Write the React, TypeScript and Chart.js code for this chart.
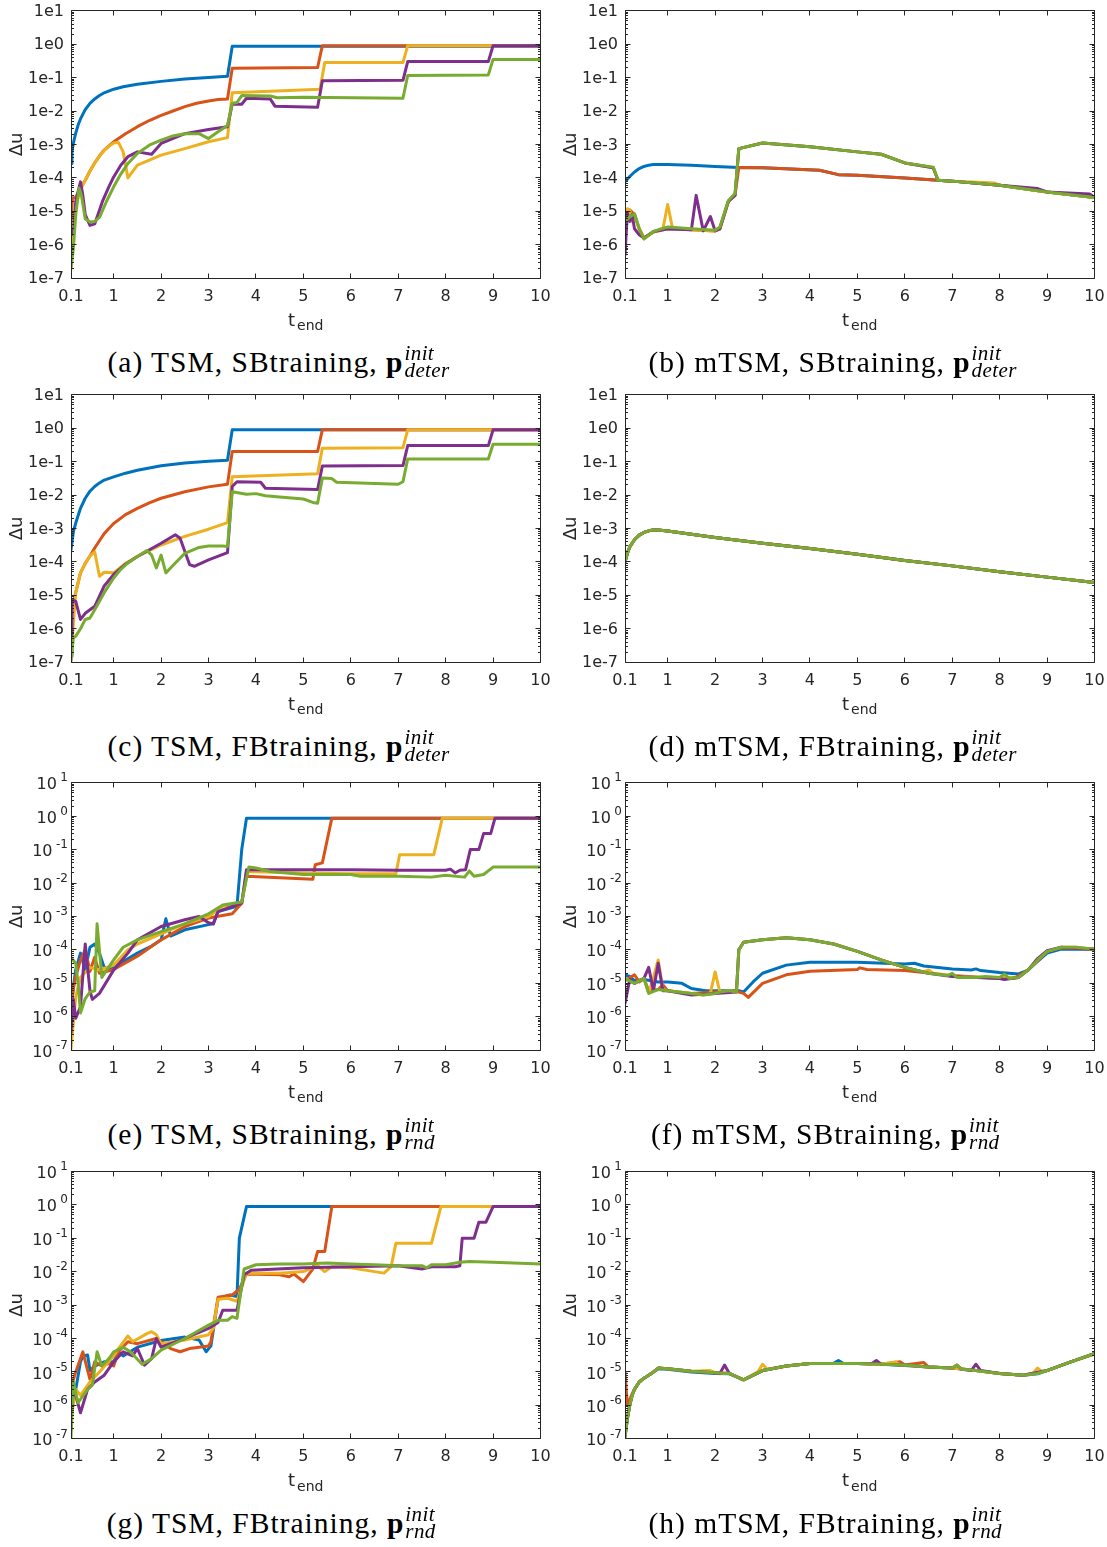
import React, { useEffect, useRef } from 'react';
import { Chart, registerables } from 'chart.js';

Chart.register(...registerables);

type Pt = [number, number];

// ---------- axes ----------
const X_MIN = 0.1;
const X_MAX = 10;
const Y_MIN = 1e-7;
const Y_MAX = 10;
const X_TICKS = [0.1, 1, 2, 3, 4, 5, 6, 7, 8, 9, 10];
const X_TICK_LABELS = ['0.1', '1', '2', '3', '4', '5', '6', '7', '8', '9', '10'];
const Y_EXPONENTS = [1, 0, -1, -2, -3, -4, -5, -6, -7];
const Y_MINOR_FACTORS = [2, 3, 4, 5, 6, 7, 8, 9];
const COLORS = ['#0072BD', '#D95319', '#EDB120', '#7E2F8E', '#77AC30'];

// ---------- (a) TSM, SBtraining, deter ----------
const aBlue: Pt[] = [[0.1,2.7e-4],[0.12,6e-4],[0.15,1.1e-3],[0.2,2.2e-3],[0.25,3.8e-3],[0.3,5.8e-3],[0.4,1.1e-2],[0.5,1.7e-2],[0.6,2.3e-2],[0.7,2.9e-2],[0.8,3.5e-2],[1,4.5e-2],[1.2,5.3e-2],[1.5,6.3e-2],[2,7.7e-2],[2.5,9e-2],[3,0.1],[3.4,0.11],[3.5,0.87],[10,0.87]];
const aOrange: Pt[] = [[0.1,3.4e-6],[0.13,2.5e-5],[0.2,2.6e-5],[0.3,5e-5],[0.4,8.5e-5],[0.5,1.6e-4],[0.6,2.8e-4],[0.7,4.5e-4],[0.8,6.8e-4],[0.9,9e-4],[1,1.2e-3],[1.25,2.1e-3],[1.5,3.4e-3],[1.75,5.2e-3],[2,7.4e-3],[2.25,1e-2],[2.5,1.35e-2],[2.75,1.7e-2],[3,2e-2],[3.2,2.2e-2],[3.4,2.3e-2],[3.5,0.19],[5.3,0.2],[5.4,0.9],[10,0.9]];
const aYellow: Pt[] = [[0.1,5e-7],[0.15,3e-6],[0.2,1.5e-5],[0.3,4.5e-5],[0.4,8.5e-5],[0.5,1.6e-4],[0.6,2.8e-4],[0.7,4.5e-4],[0.8,6.6e-4],[0.9,8.8e-4],[1,1.1e-3],[1.1,1.15e-3],[1.2,6e-4],[1.3,1e-4],[1.5,2.4e-4],[2,4.8e-4],[2.5,7.5e-4],[3,1.2e-3],[3.4,1.6e-3],[3.5,3.5e-2],[5.35,4.5e-2],[5.45,0.28],[7.1,0.28],[7.2,0.9],[10,0.9]];
const aPurple: Pt[] = [[0.1,3e-6],[0.15,2e-6],[0.2,2e-5],[0.3,7.6e-5],[0.35,3e-5],[0.4,8e-6],[0.5,3.8e-6],[0.6,4.2e-6],[0.77,2.1e-5],[0.9,5.5e-5],[1,1.07e-4],[1.15,2.4e-4],[1.3,4.3e-4],[1.5,6e-4],[1.8,5.1e-4],[2,1.07e-3],[2.5,2.1e-3],[3,2.8e-3],[3.4,3.4e-3],[3.5,1.6e-2],[3.7,1.6e-2],[3.8,2.4e-2],[4.3,2.3e-2],[4.4,1.4e-2],[5.3,1.3e-2],[5.4,8e-2],[7.1,8.3e-2],[7.2,0.3],[8.9,0.3],[9,0.9],[10,0.9]];
const aGreen: Pt[] = [[0.1,1.9e-7],[0.15,8e-7],[0.2,8e-6],[0.27,5e-5],[0.32,3e-5],[0.4,6e-6],[0.5,4.8e-6],[0.6,5e-6],[0.7,6.6e-6],[0.85,2e-5],[1,5.4e-5],[1.15,1.3e-4],[1.3,2.7e-4],[1.5,5.4e-4],[1.75,9.5e-4],[2,1.35e-3],[2.25,1.8e-3],[2.5,2.1e-3],[2.8,2.1e-3],[3,1.5e-3],[3.2,2.4e-3],[3.4,3.7e-3],[3.5,1.7e-2],[3.6,1.8e-2],[3.7,2.9e-2],[4.3,2.8e-2],[4.45,2.5e-2],[5,2.6e-2],[7.1,2.4e-2],[7.2,0.115],[8.9,0.12],[9,0.35],[10,0.35]];

// ---------- (b) mTSM, SBtraining, deter ----------
const bBlue: Pt[] = [[0.1,7.6e-5],[0.2,1.1e-4],[0.3,1.5e-4],[0.4,1.9e-4],[0.5,2.2e-4],[0.6,2.4e-4],[0.7,2.5e-4],[1,2.5e-4],[1.5,2.4e-4],[2,2.2e-4],[2.5,2.05e-4],[3,2e-4],[4.2,1.7e-4],[4.6,1.25e-4],[5,1.2e-4],[6,1e-4],[6.7,8.5e-5],[7,8e-5],[8,6e-5],[9,3.8e-5],[10,2.6e-5]];
const bOrange: Pt[] = [[0.1,5e-6],[0.15,1e-5],[0.2,1.1e-5],[0.3,8e-6],[0.4,3e-6],[0.5,1.6e-6],[0.7,2.4e-6],[1,3e-6],[1.5,2.8e-6],[2,2.6e-6],[2.1,3e-6],[2.28,2e-5],[2.42,3e-5],[2.5,2.05e-4],[3,2e-4],[4.2,1.7e-4],[4.6,1.25e-4],[5,1.2e-4],[6,1e-4],[6.7,8.5e-5],[7,8e-5],[8,6e-5],[9,3.8e-5],[10,2.6e-5]];
const bYellow: Pt[] = [[0.1,5e-6],[0.15,1.2e-5],[0.2,1.1e-5],[0.25,5e-6],[0.3,8e-6],[0.4,3e-6],[0.5,1.5e-6],[0.7,2.4e-6],[0.9,3e-6],[1,1.6e-5],[1.1,3.2e-6],[1.5,2.8e-6],[2,2.6e-6],[2.1,3e-6],[2.28,2e-5],[2.42,3e-5],[2.5,7.5e-4],[3,1.1e-3],[4,8.5e-4],[5,6e-4],[5.5,5.1e-4],[6,2.8e-4],[6.6,2e-4],[6.7,8.5e-5],[7,8e-5],[7.9,7e-5],[8,6e-5],[9,3.8e-5],[10,2.6e-5]];
const bPurple: Pt[] = [[0.1,5e-7],[0.15,9e-6],[0.2,5e-6],[0.25,8e-6],[0.3,3e-6],[0.4,2e-6],[0.5,1.6e-6],[0.7,2.5e-6],[1,3e-6],[1.5,2.8e-6],[1.6,3e-5],[1.75,2.6e-6],[1.9,7e-6],[2,2.6e-6],[2.1,3e-6],[2.28,2e-5],[2.42,3e-5],[2.5,7.5e-4],[3,1.1e-3],[4,8.5e-4],[5,6e-4],[5.5,5.1e-4],[6,2.8e-4],[6.6,2e-4],[6.7,8.5e-5],[7,8e-5],[8,6e-5],[8.8,4.8e-5],[9,3.8e-5],[9.9,3.3e-5],[10,2.6e-5]];
const bGreen: Pt[] = [[0.1,5e-6],[0.2,6.8e-6],[0.3,8.5e-6],[0.4,3e-6],[0.5,1.5e-6],[0.7,2.5e-6],[0.8,2.8e-6],[1,3.4e-6],[1.5,3e-6],[2,2.7e-6],[2.1,3.4e-6],[2.28,2.1e-5],[2.42,3.4e-5],[2.5,7.5e-4],[3,1.1e-3],[4,8.5e-4],[5,6e-4],[5.5,5.1e-4],[6,2.8e-4],[6.6,2.1e-4],[6.7,8.5e-5],[7,8e-5],[8,6e-5],[9,3.8e-5],[10,2.6e-5]];

// ---------- (c) TSM, FBtraining, deter ----------
const cBlue: Pt[] = [[0.1,2.3e-4],[0.15,8e-4],[0.2,1.45e-3],[0.3,4e-3],[0.4,8e-3],[0.5,1.3e-2],[0.6,1.8e-2],[0.7,2.3e-2],[0.8,2.8e-2],[1,3.5e-2],[1.25,4.5e-2],[1.5,5.5e-2],[2,7.5e-2],[2.5,9e-2],[3,0.103],[3.4,0.11],[3.5,0.89],[10,0.89]];
const cOrange: Pt[] = [[0.1,3.7e-6],[0.2,1.2e-5],[0.3,4.7e-5],[0.4,9e-5],[0.5,1.5e-4],[0.6,2.6e-4],[0.7,4.3e-4],[0.8,7e-4],[0.9,1e-3],[1,1.4e-3],[1.25,2.6e-3],[1.5,4e-3],[1.75,5.8e-3],[2,8e-3],[2.5,1.25e-2],[3,1.75e-2],[3.4,2.1e-2],[3.5,0.2],[5.3,0.2],[5.4,0.89],[10,0.89]];
const cYellow: Pt[] = [[0.1,1.1e-7],[0.15,1.5e-6],[0.2,1.2e-5],[0.3,4.7e-5],[0.4,9e-5],[0.5,1.5e-4],[0.6,2e-4],[0.7,3.7e-5],[0.8,4.9e-5],[1,4.7e-5],[1.25,9e-5],[1.5,1.45e-4],[2,3.2e-4],[2.5,5.8e-4],[3,9.5e-4],[3.4,1.5e-3],[3.5,3.5e-2],[5.3,4.3e-2],[5.4,0.25],[7.1,0.26],[7.2,0.89],[10,0.89]];
const cPurple: Pt[] = [[0.1,1.5e-7],[0.12,7.4e-6],[0.2,6.6e-6],[0.3,1.9e-6],[0.4,2.9e-6],[0.5,3.7e-6],[0.6,4.7e-6],[0.8,1.9e-5],[1,4.2e-5],[1.25,8.5e-5],[1.5,1.45e-4],[2,3.6e-4],[2.3,6.5e-4],[2.4,5.1e-4],[2.6,8.3e-5],[2.7,7.4e-5],[3,1.15e-4],[3.4,1.9e-4],[3.5,1.8e-2],[3.6,2.5e-2],[4.1,2.4e-2],[4.2,1.6e-2],[5.3,1.45e-2],[5.4,7.4e-2],[7.1,7.6e-2],[7.2,0.3],[8.9,0.3],[9,0.89],[10,0.89]];
const cGreen: Pt[] = [[0.1,1.1e-7],[0.15,5.4e-7],[0.2,6e-7],[0.3,1e-6],[0.4,1.9e-6],[0.5,2.1e-6],[0.6,3.7e-6],[0.8,1.2e-5],[1,3.3e-5],[1.15,6e-5],[1.3,9.3e-5],[1.5,1.45e-4],[1.7,2.2e-4],[1.8,1.6e-4],[1.9,6.6e-5],[2,1.6e-4],[2.1,4.7e-5],[2.3,9.3e-5],[2.5,1.8e-4],[2.8,2.7e-4],[3,3e-4],[3.3,3e-4],[3.4,2.9e-4],[3.5,1.25e-2],[3.8,1.05e-2],[4,1.1e-2],[4.2,9.5e-3],[4.5,8.7e-3],[5,7.6e-3],[5.2,6e-3],[5.3,5.7e-3],[5.4,3.2e-2],[5.6,3.1e-2],[5.7,2.4e-2],[7,2.1e-2],[7.1,2.5e-2],[7.2,0.12],[8.9,0.12],[9,0.33],[10,0.33]];

// ---------- (d) mTSM, FBtraining, deter (all five series coincide) ----------
const dAll: Pt[] = [[0.1,1e-4],[0.15,1.8e-4],[0.2,2.8e-4],[0.3,4.6e-4],[0.4,6.3e-4],[0.5,7.6e-4],[0.6,8.5e-4],[0.7,9e-4],[0.8,9e-4],[1,8.4e-4],[2,5.4e-4],[3,3.6e-4],[4,2.5e-4],[5,1.7e-4],[6,1.1e-4],[7,7.6e-5],[8,5.1e-5],[9,3.5e-5],[10,2.4e-5]];

// ---------- (e) TSM, SBtraining, rnd ----------
const eBlue: Pt[] = [[0.1,1e-6],[0.15,8e-6],[0.2,2.5e-5],[0.3,8e-5],[0.4,2.5e-5],[0.5,1.2e-4],[0.6,1.5e-4],[0.7,8e-5],[0.8,3e-5],[1,2.9e-5],[1.2,4.5e-5],[1.5,8e-5],[1.8,1.3e-4],[2,2e-4],[2.1,8.5e-4],[2.2,2.6e-4],[2.5,4e-4],[3,5.7e-4],[3.1,6e-4],[3.2,1.4e-3],[3.6,2e-3],[3.7,0.1],[3.8,0.87],[10,0.87]];
const eOrange: Pt[] = [[0.1,2.9e-6],[0.2,1.6e-5],[0.3,5e-5],[0.4,1e-4],[0.5,2.3e-5],[0.6,6e-5],[0.7,2e-5],[1,2.6e-5],[1.5,6.5e-5],[2,2e-4],[2.5,5e-4],[3,9e-4],[3.5,1.2e-3],[3.7,2.5e-3],[3.8,1.6e-2],[5.2,1.3e-2],[5.25,3.5e-2],[5.4,4e-2],[5.6,0.87],[10,0.87]];
const eYellow: Pt[] = [[0.1,1.1e-7],[0.2,4e-6],[0.3,1.5e-5],[0.5,3e-5],[0.7,2.5e-5],[1,3.5e-5],[1.3,1e-4],[1.5,1.5e-4],[2,3e-4],[2.5,6e-4],[3,1e-3],[3.3,2e-3],[3.7,2.5e-3],[3.8,2.2e-2],[5,2e-2],[6,1.9e-2],[6.95,1.9e-2],[7.03,7e-2],[7.75,7e-2],[7.93,0.87],[10,0.87]];
const ePurple: Pt[] = [[0.1,3.3e-7],[0.15,3.3e-6],[0.2,9e-7],[0.3,2e-6],[0.4,1.5e-4],[0.5,6e-6],[0.55,3.3e-6],[0.7,5e-6],[1,2.5e-5],[1.3,8e-5],[1.5,2e-4],[2,5e-4],[2.5,8e-4],[2.8,1e-3],[3,6.5e-4],[3.1,6e-4],[3.2,1.4e-3],[3.5,2e-3],[3.7,2.5e-3],[3.8,2.5e-2],[5,2.5e-2],[6,2.5e-2],[7,2.4e-2],[8,2.4e-2],[8.1,2.6e-2],[8.2,2e-2],[8.3,2.4e-2],[8.42,2.5e-2],[8.52,0.1],[8.7,0.1],[8.8,0.3],[8.95,0.3],[9.04,0.87],[10,0.87]];
const eGreen: Pt[] = [[0.1,5.8e-5],[0.2,4e-5],[0.25,1e-5],[0.3,1.3e-6],[0.4,3.5e-6],[0.5,5.5e-6],[0.6,6e-6],[0.65,6e-4],[0.75,1.5e-5],[1,5e-5],[1.2,1.2e-4],[1.5,2e-4],[2,3.5e-4],[2.5,6e-4],[3,1.2e-3],[3.3,2.2e-3],[3.7,2.7e-3],[3.85,3e-2],[4,2.8e-2],[4.3,2.2e-2],[5,1.8e-2],[6,1.8e-2],[6.2,1.6e-2],[7,1.6e-2],[7.7,1.5e-2],[8,1.7e-2],[8.4,1.5e-2],[8.5,2.3e-2],[8.6,1.6e-2],[8.8,1.8e-2],[9,3e-2],[10,3e-2]];

// ---------- (f) mTSM, SBtraining, rnd ----------
const fBlue: Pt[] = [[0.1,1.8e-5],[0.2,1.6e-5],[0.3,1.2e-5],[0.5,1.3e-5],[0.8,1.1e-5],[1,1.1e-5],[1.3,1e-5],[1.5,7e-6],[1.8,6e-6],[2.5,6e-6],[2.6,5.5e-6],[2.8,1.1e-5],[3,2e-5],[3.5,3.5e-5],[4,4.3e-5],[5,4.3e-5],[6,3.8e-5],[6.2,4e-5],[6.4,3.3e-5],[7,2.7e-5],[7.4,2.5e-5],[7.5,2.7e-5],[7.6,2.4e-5],[8,2.1e-5],[8.4,1.9e-5],[8.6,2.5e-5],[8.8,4.5e-5],[9,8e-5],[9.3,1.05e-4],[10,1.05e-4]];
const fOrange: Pt[] = [[0.1,1.2e-5],[0.3,1.8e-5],[0.4,1.1e-5],[0.5,1.4e-5],[0.6,6e-6],[0.8,6.5e-6],[0.9,9e-6],[1,6e-6],[1.5,5e-6],[2,5.5e-6],[2.4,6e-6],[2.6,5e-6],[2.7,3.8e-6],[3,1e-5],[3.5,1.8e-5],[4,2.3e-5],[5,2.6e-5],[5.05,2.9e-5],[5.2,2.6e-5],[6,2.4e-5],[7,1.7e-5],[8,1.4e-5],[8.3,1.4e-5],[8.6,2.5e-5],[9,9e-5],[9.3,1.15e-4],[10,1.05e-4]];
const fYellow: Pt[] = [[0.1,1.4e-5],[0.3,1e-5],[0.5,1.4e-5],[0.6,5e-6],[0.7,1.5e-5],[0.8,5e-5],[0.9,6.5e-6],[1,6e-6],[1.5,5e-6],[1.75,4.5e-6],[1.9,5e-6],[2,2.2e-5],[2.1,5.5e-6],[2.3,6e-6],[2.45,5.5e-6],[2.5,1e-4],[2.6,1.7e-4],[3,2e-4],[3.5,2.3e-4],[4,2e-4],[4.5,1.5e-4],[5,9e-5],[5.5,5e-5],[6,3e-5],[6.4,2.2e-5],[6.5,2.5e-5],[6.6,2e-5],[7,1.7e-5],[7.5,1.5e-5],[8,1.5e-5],[8.4,1.5e-5],[8.6,2.5e-5],[8.8,5e-5],[9,9e-5],[9.3,1.2e-4],[9.6,1.2e-4],[10,1.05e-4]];
const fPurple: Pt[] = [[0.1,2.5e-6],[0.2,1.3e-5],[0.3,1e-5],[0.5,1.4e-5],[0.6,3e-5],[0.7,6e-6],[0.8,4e-5],[0.9,6e-6],[1,6e-6],[1.5,4.5e-6],[2,5e-6],[2.45,5.5e-6],[2.5,1e-4],[2.6,1.7e-4],[3,2e-4],[3.5,2.3e-4],[4,2e-4],[4.5,1.5e-4],[5,9e-5],[5.5,5e-5],[6,3e-5],[6.5,2e-5],[7,1.6e-5],[7.5,1.5e-5],[8,1.4e-5],[8.1,1.3e-5],[8.4,1.5e-5],[8.6,2.5e-5],[8.8,5.5e-5],[9,9.5e-5],[9.3,1.2e-4],[10,1.05e-4]];
const fGreen: Pt[] = [[0.1,1.4e-5],[0.3,1e-5],[0.5,1.4e-5],[0.6,5e-6],[0.8,6.5e-6],[1,6e-6],[1.5,5e-6],[1.75,4.5e-6],[2,5e-6],[2.1,5.5e-6],[2.3,6e-6],[2.45,5.5e-6],[2.5,1e-4],[2.6,1.7e-4],[3,2e-4],[3.5,2.3e-4],[4,2e-4],[4.5,1.5e-4],[5,9e-5],[5.5,5e-5],[6,3e-5],[6.5,2e-5],[6.9,1.7e-5],[7,2e-5],[7.1,1.5e-5],[7.5,1.5e-5],[7.7,1.6e-5],[8,1.5e-5],[8.1,1.9e-5],[8.2,1.4e-5],[8.4,1.5e-5],[8.6,2.5e-5],[8.8,5e-5],[9,9e-5],[9.3,1.2e-4],[9.6,1.2e-4],[10,1.05e-4]];

// ---------- (g) TSM, FBtraining, rnd ----------
const gBlue: Pt[] = [[0.1,2.9e-6],[0.2,3e-6],[0.3,2e-5],[0.35,3e-5],[0.45,3.2e-5],[0.5,1.1e-5],[0.6,1.5e-5],[0.8,2e-5],[1,2e-5],[1.1,4e-5],[1.2,3e-5],[1.5,5.5e-5],[2,8.7e-5],[2.5,1.1e-4],[2.8,9e-5],[2.95,4e-5],[3.05,6e-5],[3.2,1.5e-3],[3.45,2e-3],[3.6,1.8e-3],[3.65,0.1],[3.8,0.88],[10,0.88]];
const gOrange: Pt[] = [[0.1,3.4e-6],[0.2,1e-5],[0.35,4e-5],[0.5,6e-6],[0.6,2e-5],[0.75,1.5e-5],[0.9,1.8e-5],[1,1.5e-5],[1.1,4e-5],[1.3,8e-5],[1.5,7e-5],[1.9,1e-4],[2,8e-5],[2.2,5e-5],[2.4,4e-5],[2.6,5e-5],[3,6e-5],[3.05,8e-5],[3.2,1.7e-3],[3.5,2e-3],[3.65,3e-3],[3.8,8.5e-3],[4.5,8e-3],[4.7,7e-3],[4.8,8.5e-3],[5,5e-3],[5.2,1.2e-2],[5.3,4e-2],[5.45,4e-2],[5.6,0.88],[10,0.88]];
const gYellow: Pt[] = [[0.1,4e-7],[0.2,3e-6],[0.3,2e-6],[0.5,5e-6],[0.7,1e-5],[1,3e-5],[1.1,5e-5],[1.3,1.2e-4],[1.4,8e-5],[1.7,1.4e-4],[1.8,1.6e-4],[1.9,1.3e-4],[2,7e-5],[2.5,9e-5],[3,1.3e-4],[3.1,2e-4],[3.2,1.5e-3],[3.4,1.6e-3],[3.6,1.3e-3],[3.8,9e-3],[4.5,9e-3],[5,1e-2],[5.3,1.5e-2],[5.45,1e-2],[5.6,1.4e-2],[6,1.3e-2],[6.5,1e-2],[6.7,9e-3],[6.85,1.4e-2],[6.95,7e-2],[7.7,7e-2],[7.9,0.88],[10,0.88]];
const gPurple: Pt[] = [[0.1,4e-7],[0.15,3e-6],[0.2,2e-6],[0.3,6e-7],[0.45,3e-6],[0.6,5e-6],[0.8,8e-6],[1,2e-5],[1.2,4e-5],[1.4,3e-5],[1.5,5e-5],[1.65,1.6e-5],[1.8,2.5e-5],[1.9,1e-4],[2,5.5e-5],[2.5,1e-4],[3,2e-4],[3.2,3e-4],[3.3,7e-4],[3.6,7e-4],[3.75,8e-3],[3.9,1.1e-2],[5,1.3e-2],[6,1.4e-2],[7,1.5e-2],[7.5,1.2e-2],[7.7,1.4e-2],[8.2,1.4e-2],[8.3,1.5e-2],[8.35,0.1],[8.6,0.1],[8.7,0.3],[8.85,0.3],[9,0.88],[10,0.88]];
const gGreen: Pt[] = [[0.1,1.1e-7],[0.15,5e-6],[0.25,1.2e-6],[0.45,3e-6],[0.55,4e-6],[0.65,4e-5],[0.75,1.5e-5],[0.9,2.5e-5],[1,4e-5],[1.2,5.5e-5],[1.35,4e-5],[1.6,1.7e-5],[1.8,2.5e-5],[2,4.5e-5],[2.5,1e-4],[3,2.5e-4],[3.2,3.5e-4],[3.4,3.5e-4],[3.5,4.5e-4],[3.6,4e-4],[3.75,1.2e-2],[4,1.6e-2],[4.5,1.7e-2],[5,1.7e-2],[5.5,1.8e-2],[6,1.7e-2],[6.5,1.6e-2],[7,1.5e-2],[7.5,1.5e-2],[7.6,1.3e-2],[7.7,1.6e-2],[8,1.6e-2],[8.3,1.9e-2],[8.5,2e-2],[9,1.9e-2],[10,1.7e-2]];

// ---------- (h) mTSM, FBtraining, rnd ----------
const hBlue: Pt[] = [[0.1,1.2e-7],[0.15,4e-7],[0.2,1e-6],[0.25,2e-6],[0.3,3e-6],[0.4,5e-6],[0.5,6.5e-6],[0.6,8e-6],[0.7,1e-5],[0.8,1.25e-5],[1,1.2e-5],[1.5,1e-5],[2,9e-6],[2.3,8.8e-6],[2.6,5.8e-6],[3,1.1e-5],[3.5,1.5e-5],[4,1.8e-5],[4.5,1.8e-5],[4.6,2.2e-5],[4.7,1.8e-5],[5,1.8e-5],[5.5,1.7e-5],[6,1.55e-5],[6.5,1.4e-5],[7,1.3e-5],[7.5,1.1e-5],[8,9e-6],[8.5,8e-6],[8.8,8.8e-6],[9,1.1e-5],[9.5,2e-5],[10,3.6e-5]];
const hOrange: Pt[] = [[0.1,1e-5],[0.15,1e-6],[0.2,1.5e-6],[0.25,2.2e-6],[0.3,3e-6],[0.4,5e-6],[0.5,6.5e-6],[0.6,8e-6],[0.7,1e-5],[0.8,1.3e-5],[1,1.25e-5],[1.5,1.05e-5],[2,9.5e-6],[2.3,9e-6],[2.6,5.8e-6],[3,1.1e-5],[3.5,1.5e-5],[4,1.8e-5],[5,1.8e-5],[5.5,1.7e-5],[5.9,2e-5],[6,1.6e-5],[6.4,1.9e-5],[6.5,1.4e-5],[7,1.3e-5],[7.5,1.1e-5],[8,9e-6],[8.5,8e-6],[9,1.1e-5],[9.5,2e-5],[10,3.5e-5]];
const hYellow: Pt[] = [[0.1,1.1e-7],[0.15,4e-7],[0.2,1e-6],[0.25,2e-6],[0.3,3e-6],[0.4,5e-6],[0.5,6.5e-6],[0.6,8e-6],[0.7,1e-5],[0.8,1.3e-5],[1,1.25e-5],[1.5,1.05e-5],[1.9,1.1e-5],[2,9.5e-6],[2.3,9e-6],[2.6,5.8e-6],[2.9,1e-5],[3,1.7e-5],[3.1,1.2e-5],[3.5,1.5e-5],[4,1.8e-5],[5,1.8e-5],[5.5,1.7e-5],[5.8,2e-5],[5.9,1.6e-5],[6.5,1.4e-5],[7,1.3e-5],[7.5,1.1e-5],[8,9e-6],[8.5,8e-6],[8.7,9e-6],[8.8,1.3e-5],[8.9,1e-5],[9,1.1e-5],[9.5,2e-5],[10,3.5e-5]];
const hPurple: Pt[] = [[0.1,1.1e-7],[0.15,4e-7],[0.2,1e-6],[0.25,2e-6],[0.3,3e-6],[0.4,5e-6],[0.5,6.5e-6],[0.6,8e-6],[0.7,1e-5],[0.8,1.3e-5],[1,1.25e-5],[1.5,1.05e-5],[2,9.5e-6],[2.1,9e-6],[2.2,1.6e-5],[2.3,9e-6],[2.6,5.8e-6],[3,1.1e-5],[3.5,1.5e-5],[4,1.8e-5],[5,1.8e-5],[5.3,1.75e-5],[5.4,2.2e-5],[5.5,1.7e-5],[6,1.6e-5],[6.5,1.4e-5],[7,1.3e-5],[7.1,1.6e-5],[7.2,1.2e-5],[7.4,1.1e-5],[7.5,1.7e-5],[7.6,1.1e-5],[8,9e-6],[8.5,8e-6],[9,1.1e-5],[9.5,2e-5],[10,3.5e-5]];
const hGreen: Pt[] = [[0.1,1.1e-7],[0.15,4e-7],[0.2,1e-6],[0.25,2e-6],[0.3,3e-6],[0.4,5e-6],[0.5,6.5e-6],[0.6,8e-6],[0.7,1e-5],[0.8,1.3e-5],[1,1.25e-5],[1.5,1.05e-5],[2,9.5e-6],[2.3,9e-6],[2.6,5.8e-6],[3,1.1e-5],[3.5,1.5e-5],[4,1.8e-5],[4.5,1.8e-5],[5,1.8e-5],[5.5,1.7e-5],[6,1.6e-5],[6.5,1.4e-5],[7,1.3e-5],[7.1,1.6e-5],[7.2,1.2e-5],[7.5,1.1e-5],[8,9e-6],[8.5,8e-6],[8.8,9e-6],[9,1.1e-5],[9.5,2e-5],[10,3.5e-5]];

// ---------- captions ----------
const CAPTIONS = [
  '(a) TSM, SBtraining, ', '(b) mTSM, SBtraining, ',
  '(c) TSM, FBtraining, ', '(d) mTSM, FBtraining, ',
  '(e) TSM, SBtraining, ', '(f) mTSM, SBtraining, ',
  '(g) TSM, FBtraining, ', '(h) mTSM, FBtraining, ',
];
const CAPTION_SUBS = ['deter', 'deter', 'deter', 'deter', 'rnd', 'rnd', 'rnd', 'rnd'];
const PANEL_SERIES: Pt[][][] = [
  [aBlue, aOrange, aYellow, aPurple, aGreen],
  [bBlue, bOrange, bYellow, bPurple, bGreen],
  [cBlue, cOrange, cYellow, cPurple, cGreen],
  [dAll, dAll, dAll, dAll, dAll],
  [eBlue, eOrange, eYellow, ePurple, eGreen],
  [fBlue, fOrange, fYellow, fPurple, fGreen],
  [gBlue, gOrange, gYellow, gPurple, gGreen],
  [hBlue, hOrange, hYellow, hPurple, hGreen],
];

// ---------- layout ----------
const COL_LEFT = [71, 625];
const ROW_TOP = [10.7, 394.7, 782.7, 1171.3];
const PLOT_W = 469.5;
const PLOT_H = 267.5;
const CANVAS_W = 553;
const CANVAS_H = 345;
const AX = '#262626';
const SANS = '"DejaVu Sans", sans-serif';

function makeAxesPlugin(style: 'e' | 'pow') {
  return {
    id: 'matlabAxes',
    afterDatasetsDraw(chart: any) {
      const { ctx, chartArea: a, scales } = chart;
      const xs = scales.x;
      const ys = scales.y;
      const snap = (v: number) => Math.round(v - 0.5) + 0.5;
      ctx.save();
      ctx.strokeStyle = AX;
      ctx.fillStyle = AX;
      ctx.lineWidth = 1;
      const L = snap(a.left), R = snap(a.right), T = snap(a.top), B = snap(a.bottom);
      ctx.beginPath();
      ctx.rect(L, T, R - L, B - T);
      ctx.stroke();
      // x ticks
      ctx.beginPath();
      X_TICKS.forEach((v) => {
        const px = snap(xs.getPixelForValue(v));
        ctx.moveTo(px, B); ctx.lineTo(px, B - 5);
        ctx.moveTo(px, T); ctx.lineTo(px, T + 5);
      });
      // y major ticks
      Y_EXPONENTS.forEach((e) => {
        const py = snap(ys.getPixelForValue(Math.pow(10, e)));
        ctx.moveTo(L, py); ctx.lineTo(L + 5, py);
        ctx.moveTo(R, py); ctx.lineTo(R - 5, py);
      });
      ctx.stroke();
      // y minor ticks
      ctx.beginPath();
      for (let e = -7; e <= 0; e++) {
        Y_MINOR_FACTORS.forEach((k) => {
          const py = snap(ys.getPixelForValue(k * Math.pow(10, e)));
          ctx.moveTo(L, py); ctx.lineTo(L + 2.5, py);
          ctx.moveTo(R, py); ctx.lineTo(R - 2.5, py);
        });
      }
      ctx.stroke();
      // x tick labels
      ctx.font = `16px ${SANS}`;
      ctx.textAlign = 'center';
      ctx.textBaseline = 'alphabetic';
      X_TICKS.forEach((v, i) => {
        ctx.fillText(X_TICK_LABELS[i], xs.getPixelForValue(v), a.bottom + 22.3);
      });
      // y tick labels
      Y_EXPONENTS.forEach((e) => {
        const py = ys.getPixelForValue(Math.pow(10, e));
        if (style === 'e') {
          ctx.font = `16px ${SANS}`;
          ctx.textAlign = 'right';
          ctx.fillText('1e' + e, a.left - 7, py + 5.1);
        } else {
          const es = String(e);
          ctx.font = `12px ${SANS}`;
          const we = ctx.measureText(es).width;
          ctx.textAlign = 'right';
          ctx.fillText(es, a.left - 3, py - 1.3);
          ctx.font = `16px ${SANS}`;
          ctx.fillText('10', a.left - 3 - we - 3.5, py + 6.6);
        }
      });
      // y axis title
      ctx.save();
      ctx.translate(a.left - 49, (a.top + a.bottom) / 2);
      ctx.rotate(-Math.PI / 2);
      ctx.font = `18px ${SANS}`;
      ctx.textAlign = 'center';
      ctx.textBaseline = 'alphabetic';
      ctx.fillText('\u0394u', 0, 0);
      ctx.restore();
      // x axis title t_end
      ctx.textAlign = 'left';
      ctx.font = `18px ${SANS}`;
      const wt = ctx.measureText('t').width;
      ctx.font = `14px ${SANS}`;
      const wend = ctx.measureText('end').width;
      const total = wt + 2 + wend;
      const cx = (a.left + a.right) / 2;
      const x0 = cx - total / 2;
      ctx.font = `18px ${SANS}`;
      ctx.fillText('t', x0, a.bottom + 47.3);
      ctx.font = `14px ${SANS}`;
      ctx.fillText('end', x0 + wt + 2, a.bottom + 52);
      ctx.restore();
    },
  };
}

function Panel({ index }: { index: number }) {
  const ref = useRef<HTMLCanvasElement>(null);
  const col = index % 2;
  const row = Math.floor(index / 2);
  const colLeft = COL_LEFT[col];
  const rowTop = ROW_TOP[row];
  const cLeft = colLeft - 71;
  const cTop = Math.floor(rowTop) - 10;
  useEffect(() => {
    if (!ref.current) return;
    const padL = colLeft - cLeft;
    const padT = rowTop - cTop;
    const series = PANEL_SERIES[index];
    const chart = new Chart(ref.current, {
      type: 'line',
      data: {
        datasets: series.map((s, i) => ({
          label: `series ${i + 1}`,
          data: s.map(([x, y]) => ({ x, y })),
          borderColor: COLORS[i],
          backgroundColor: COLORS[i],
          borderWidth: 3,
          pointRadius: 0,
          tension: 0,
          fill: false,
          order: 5 - i,
          borderJoinStyle: 'round' as const,
          borderCapStyle: 'round' as const,
        })),
      },
      options: {
        responsive: false,
        animation: false,
        devicePixelRatio: 1,
        events: [],
        layout: {
          padding: {
            left: padL,
            top: padT,
            right: CANVAS_W - padL - PLOT_W,
            bottom: CANVAS_H - padT - PLOT_H,
          },
        },
        scales: {
          x: { type: 'linear', min: X_MIN, max: X_MAX, display: false },
          y: { type: 'logarithmic', min: Y_MIN, max: Y_MAX, display: false },
        },
        plugins: { legend: { display: false }, tooltip: { enabled: false } },
      },
      plugins: [makeAxesPlugin(row < 2 ? 'e' : 'pow')],
    } as any);
    return () => chart.destroy();
  }, []);
  return (
    <canvas
      ref={ref}
      width={CANVAS_W}
      height={CANVAS_H}
      style={{ position: 'absolute', left: cLeft, top: cTop, width: CANVAS_W, height: CANVAS_H }}
    />
  );
}

function Caption({ index }: { index: number }) {
  const col = index % 2;
  const row = Math.floor(index / 2);
  const cx = COL_LEFT[col] + 207.5;
  const baseline = ROW_TOP[row] + PLOT_H + 94;
  const scriptStyle: React.CSSProperties = {
    position: 'absolute',
    left: '100%',
    marginLeft: 1,
    fontSize: 21,
    lineHeight: '21px',
    fontStyle: 'italic',
    fontWeight: 'normal',
    letterSpacing: '0.4px',
  };
  return (
    <div
      style={{
        position: 'absolute',
        left: cx - 300,
        width: 600,
        top: baseline - 24.95,
        textAlign: 'center',
        fontFamily: '"Liberation Serif", serif',
        fontSize: 29.5,
        lineHeight: '30px',
        letterSpacing: '1px',
        color: '#000',
        whiteSpace: 'pre',
      }}
    >
      {CAPTIONS[index]}
      <span style={{ position: 'relative' }}>
        <b>p</b>
        <span style={{ ...scriptStyle, top: -3.3 }}>init</span>
        <span style={{ ...scriptStyle, top: 13.7 }}>{CAPTION_SUBS[index]}</span>
      </span>
      <span style={{ display: 'inline-block', width: 46 }} />
    </div>
  );
}

export default function App() {
  const idx = [0, 1, 2, 3, 4, 5, 6, 7];
  return (
    <div style={{ position: 'absolute', left: 0, top: 0, width: 1107, height: 1547, background: '#fff', overflow: 'hidden' }}>
      {idx.map((i) => (
        <Panel key={`p${i}`} index={i} />
      ))}
      {idx.map((i) => (
        <Caption key={`c${i}`} index={i} />
      ))}
    </div>
  );
}
